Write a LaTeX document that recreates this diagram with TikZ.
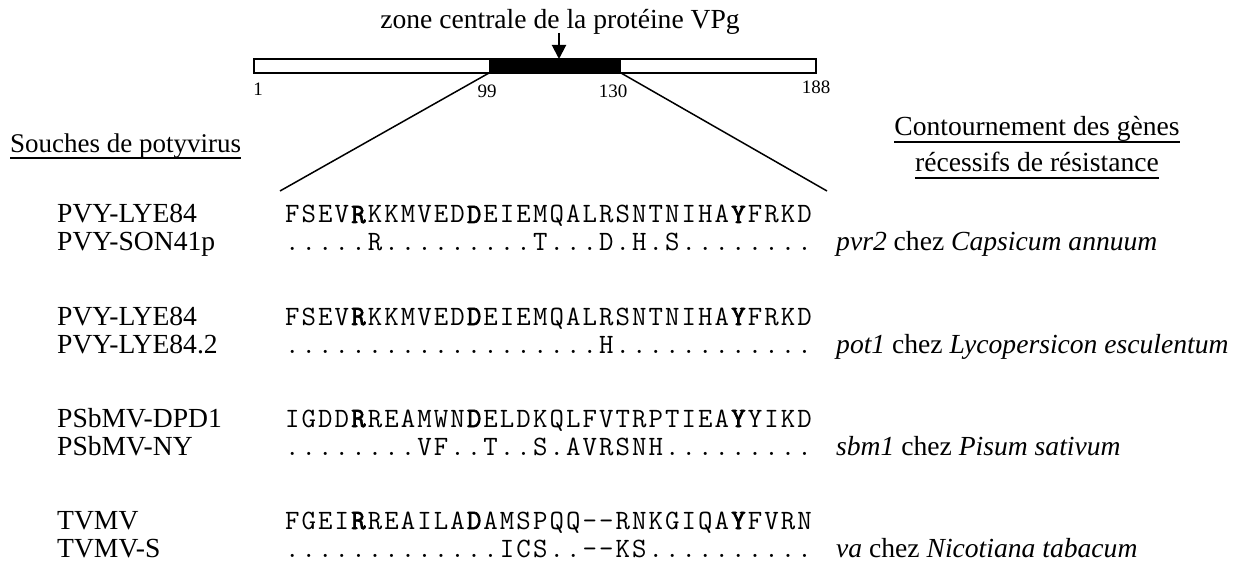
\documentclass[tikz,border=0pt]{standalone}
\usepackage{fontspec}
\setmainfont{Liberation Serif}
\newfontfamily\seqfont{Latin Modern Mono}[LetterSpace=7.5,BoldFont={Latin Modern Mono},BoldFeatures={FakeBold=2.5}]
\usetikzlibrary{arrows.meta}
\begin{document}
\begin{tikzpicture}[x=1pt,y=-1pt,
  lab/.style={anchor=base west,inner sep=0pt,text depth=0pt,font=\fontsize{27.6}{30}\selectfont},
  seq/.style={anchor=base west,inner sep=0pt,text depth=0pt,font=\fontsize{28}{30}\seqfont},
  num/.style={anchor=base,inner sep=0pt,font=\fontsize{19}{22}\selectfont},
  hdr/.style={anchor=base,inner sep=0pt},
  uline/.style={line width=1.6pt},
  zoomline/.style={line width=1.5pt}]
\useasboundingbox (0,0) rectangle (1242,561);
% title and arrow
\node[hdr,font=\fontsize{27.6}{30}\selectfont] (title) at (560,29) {zone centrale de la protéine VPg};
\coordinate (arrtop) at (559,33);
\coordinate (arrbot) at (559,59);
\draw[line width=2pt,-{Triangle[length=14pt,width=14pt]}] (arrtop) -- (arrbot);
% bar
\draw[line width=2pt] (254,59) rectangle (816,73);
\fill (489,59) rectangle (621,73);
\coordinate (bl) at (489,73);
\coordinate (br) at (621,73);
\coordinate (l1) at (280,191);
\coordinate (r1) at (827,191);
\draw[zoomline] (bl) -- (l1);
\draw[zoomline] (br) -- (r1);
% numbers
\node[num] (n1) at (258,96) {1};
\node[num] (n99) at (487,98) {99};
\node[num] (n130) at (613,98) {130};
\node[num] (n188) at (816,94) {188};
% headers
\node[anchor=base west,inner sep=0pt,font=\fontsize{27}{30}\selectfont] (hl) at (10,153) {Souches de potyvirus};
\draw[uline] ([yshift=-5pt]hl.base west) -- ([yshift=-5pt]hl.base east);
\node[hdr,font=\fontsize{27.6}{30}\selectfont] (hr1) at (1037,136) {Contournement des gènes};
\draw[uline] ([yshift=-6pt]hr1.base west) -- ([yshift=-6pt]hr1.base east);
\node[hdr,font=\fontsize{27.6}{30}\selectfont] (hr2) at (1037,172) {récessifs de résistance};
\draw[uline] ([yshift=-6pt]hr2.base west) -- ([yshift=-6pt]hr2.base east);
% group 1
\node[lab] (a1) at (57,223) {PVY-LYE84};
\node[seq] (s1) at (285,223) {FSEV\textbf{R}KKMVED\textbf{D}EIEMQALRSNTNIHA\textbf{Y}FRKD};
\node[lab] (a2) at (57,251) {PVY-SON41p};
\node[seq] (s2) at (285,251) {.....R.........T...D.H.S........};
\node[lab] (g1) at (836,251) {\textit{pvr2} chez \textit{Capsicum annuum}};
% group 2
\node[lab] (a3) at (57,325) {PVY-LYE84};
\node[seq] (s3) at (285,325) {FSEV\textbf{R}KKMVED\textbf{D}EIEMQALRSNTNIHA\textbf{Y}FRKD};
\node[lab] (a4) at (57,353) {PVY-LYE84.2};
\node[seq] (s4) at (285,353) {...................H............};
\node[lab] (g2) at (836,353) {\textit{pot1} chez \textit{Lycopersicon esculentum}};
% group 3
\node[lab] (a5) at (57,427) {PSbMV-DPD1};
\node[seq] (s5) at (285,427) {IGDD\textbf{R}REAMWN\textbf{D}ELDKQLFVTRPTIEA\textbf{Y}YIKD};
\node[lab] (a6) at (57,455) {PSbMV-NY};
\node[seq] (s6) at (285,455) {........VF..T..S.AVRSNH.........};
\node[lab] (g3) at (836,455) {\textit{sbm1} chez \textit{Pisum sativum}};
% group 4
\node[lab] (a7) at (57,529) {TVMV};
\node[seq] (s7) at (285,529) {FGEI\textbf{R}REAILA\textbf{D}AMSPQQ-{}-RNKGIQA\textbf{Y}FVRN};
\node[lab] (a8) at (57,557) {TVMV-S};
\node[seq] (s8) at (285,557) {.............ICS..-{}-KS..........};
\node[lab] (g4) at (836,557) {\textit{va} chez \textit{Nicotiana tabacum}};
\end{tikzpicture}
\end{document}
